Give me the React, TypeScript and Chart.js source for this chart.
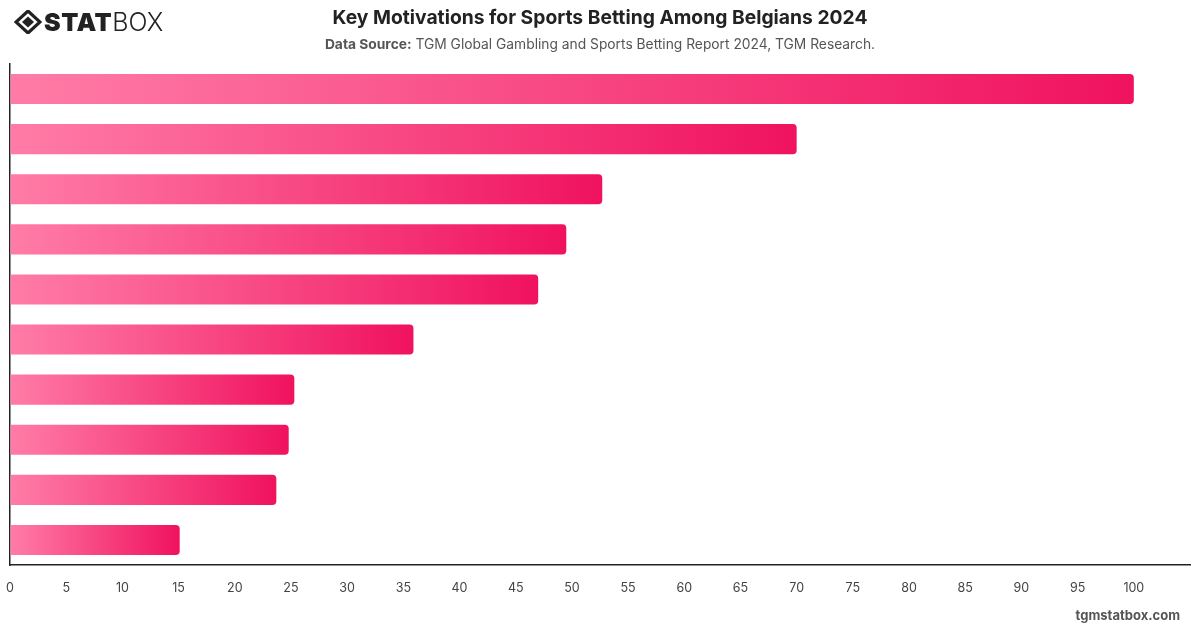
import React, { useEffect, useRef } from "react";
import { Chart, registerables } from "chart.js";

Chart.register(...registerables);

const categories: string[] = [
  "Motivation 1",
  "Motivation 2",
  "Motivation 3",
  "Motivation 4",
  "Motivation 5",
  "Motivation 6",
  "Motivation 7",
  "Motivation 8",
  "Motivation 9",
  "Motivation 10",
];
const values: number[] = [100, 70, 52.7, 49.5, 47, 35.9, 25.3, 24.8, 23.7, 15.1];

const TITLE = "Key Motivations for Sports Betting Among Belgians 2024";
const SOURCE_LABEL = "Data Source:";
const SOURCE_TEXT = " TGM Global Gambling and Sports Betting Report 2024, TGM Research.";
const FONT = "Inter, 'Helvetica Neue', Arial, sans-serif";

export default function App() {
  const canvasRef = useRef<HTMLCanvasElement | null>(null);

  useEffect(() => {
    document.body.style.margin = "0";
    const canvas = canvasRef.current;
    if (!canvas) return;
    const chart = new Chart(canvas, {
      type: "bar",
      data: {
        labels: categories,
        datasets: [
          {
            data: values,
            backgroundColor: (context: any) => {
              const chart = context.chart;
              const xs = chart.scales?.x;
              if (!xs || !chart.chartArea) return "#f7417f";
              const x0 = xs.getPixelForValue(0);
              const x1 = xs.getPixelForValue(context.raw ?? 0);
              const g = chart.ctx.createLinearGradient(x0, 0, Math.max(x1, x0 + 1), 0);
              g.addColorStop(0, "rgb(255,124,167)");
              g.addColorStop(1, "rgb(240,18,95)");
              return g;
            },
            borderRadius: 4,
            borderSkipped: "start",
            categoryPercentage: 1,
            barPercentage: 0.6,
          },
        ],
      },
      options: {
        indexAxis: "y",
        responsive: false,
        animation: false,
        maintainAspectRatio: false,
        layout: { padding: { top: 64, left: 10, right: 10, bottom: 32 } },
        plugins: {
          legend: { display: false },
          tooltip: { enabled: false },
          title: { display: false },
        },
        scales: {
          x: {
            type: "linear",
            min: 0,
            max: 105,
            grid: {
              display: true,
              drawOnChartArea: false,
              drawTicks: true,
              tickLength: 16,
              color: "rgba(0,0,0,0)",
            },
            border: { display: true, color: "#222", width: 1.5 },
            ticks: {
              stepSize: 5,
              padding: 0,
              color: "#444",
              font: { family: FONT, size: 12.5 },
              callback: (v: any) => (Number(v) > 100 ? "" : String(v)),
            },
          },
          y: {
            grid: { display: false, drawTicks: false },
            border: { display: true, color: "#222", width: 1.5 },
            ticks: { display: false },
            afterFit: (scale: any) => {
              scale.width = 0;
            },
          },
        },
      },
    });
    return () => chart.destroy();
  }, []);

  return (
    <div style={{ position: "relative", width: 1200, height: 628, background: "#fff", fontFamily: FONT, overflow: "hidden" }}>
      <canvas ref={canvasRef} width={1200} height={628} style={{ position: "absolute", left: 0, top: 0, width: 1200, height: 628 }} />
      <div style={{ position: "absolute", left: 14, top: 8, display: "flex", alignItems: "center", height: 28 }}>
        <svg width="28" height="24" viewBox="0 0 28 24" style={{ marginRight: 2 }}>
          <polygon points="14,1 26,12 14,23 2,12" fill="none" stroke="#222" strokeWidth="3.2" strokeLinejoin="miter" />
          <polygon points="14,6.5 20,12 14,17.5 8,12" fill="#222" />
        </svg>
        <span style={{ fontSize: 25, fontWeight: 900, color: "#222", letterSpacing: 0.5, lineHeight: "28px" }}>STAT</span>
        <span style={{ fontSize: 25, fontWeight: 300, color: "#222", lineHeight: "28px" }}>BOX</span>
      </div>
      <div style={{ position: "absolute", left: 0, width: 1200, top: 5, textAlign: "center", fontSize: 19.3, fontWeight: 700, color: "#222", lineHeight: "24px" }}>
        {TITLE}
      </div>
      <div style={{ position: "absolute", left: 0, width: 1200, top: 35, textAlign: "center", fontSize: 13.8, color: "#555", lineHeight: "18px" }}>
        <span style={{ fontWeight: 700 }}>{SOURCE_LABEL}</span>
        <span>{SOURCE_TEXT}</span>
      </div>
      <div style={{ position: "absolute", right: 20, top: 606, fontSize: 13, fontWeight: 700, color: "#555", lineHeight: "18px" }}>
        tgmstatbox.com
      </div>
    </div>
  );
}
